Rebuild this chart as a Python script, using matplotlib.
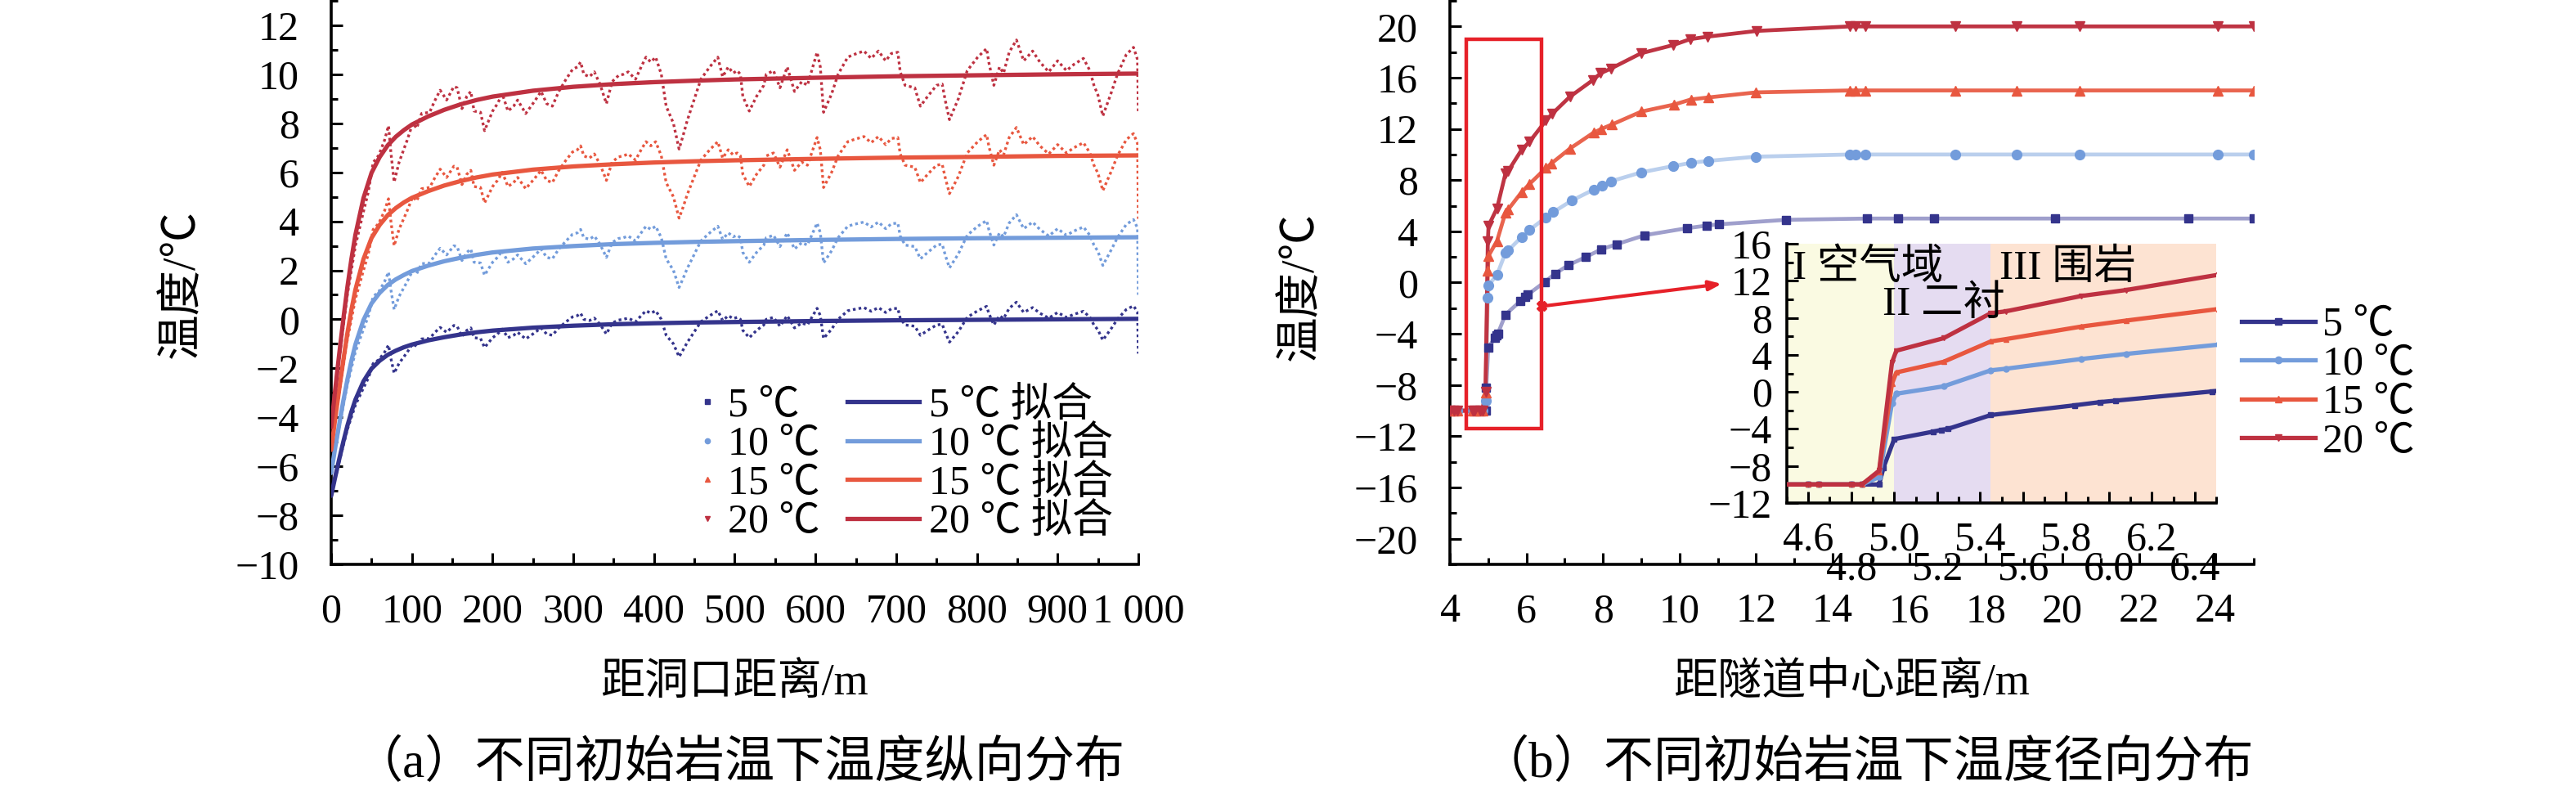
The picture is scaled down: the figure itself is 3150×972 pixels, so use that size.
import matplotlib
matplotlib.use('Agg')
import matplotlib.pyplot as plt
import matplotlib.transforms as mtransforms
from matplotlib.lines import Line2D
from matplotlib.patches import Rectangle
from matplotlib.ticker import MultipleLocator

plt.rcParams['font.family'] = ['Liberation Serif', 'Noto Sans CJK SC']
plt.rcParams['axes.unicode_minus'] = True

# ---------------- (a) longitudinal distribution ----------------
dist_x = [0, 10, 20, 30, 40, 46, 52, 59, 66, 71,
          74, 78, 84, 94, 101, 106, 112, 122, 128, 135,
          143, 152, 156, 162, 168, 173, 177, 185, 190, 200,
          206, 212, 219, 226, 231, 241, 252, 260, 267, 274,
          282, 291, 299, 305, 309, 313, 320, 326, 333, 341,
          348, 356, 362, 368, 377, 384, 390, 396, 402, 409,
          415, 424, 431, 436, 441, 448, 458, 469, 479, 485,
          492, 498, 503, 507, 510, 518, 527, 536, 539, 548,
          556, 565, 574, 583, 590, 602, 606, 610, 620, 628,
          640, 647, 660, 669, 678, 687, 694, 702, 705, 711,
          723, 730, 739, 750, 757, 761, 766, 777, 788, 801,
          812, 815, 821, 828, 833, 840, 849, 858, 869, 878,
          889, 900, 911, 920, 932, 940, 945, 950, 956, 967,
          974, 985, 994, 999, 1000]

meas_20 = [-4.4, -1.6, 1.0, 3.0, 4.4, 5.2, 6.4, 6.7, 7.3, 7.9,
           6.8, 5.6, 6.4, 7.3, 8.0, 7.8, 8.4, 8.45, 8.9, 9.35,
           8.95, 9.5, 9.45, 8.6, 9.1, 9.3, 8.5, 8.45, 7.7, 8.5,
           8.8, 9.2, 8.5, 8.7, 8.95, 8.4, 8.9, 9.3, 8.8, 8.7,
           9.3, 9.8, 10.2, 10.3, 10.5, 10.0, 9.9, 10.1, 9.6, 8.8,
           9.7, 9.95, 10.0, 10.1, 9.8, 10.3, 10.7, 10.5, 10.7, 10.0,
           8.7, 8.0, 6.95, 7.5, 8.1, 8.8, 9.8, 10.3, 10.7, 9.9,
           10.3, 10.05, 10.15, 10.0, 9.1, 8.5, 9.1, 9.55, 10.0, 10.15,
           9.45, 10.3, 9.3, 9.7, 9.55, 10.9, 10.3, 8.45, 9.2, 10.0,
           10.7, 10.8, 10.95, 10.65, 10.95, 10.55, 10.85, 10.9, 10.1, 9.55,
           9.45, 8.7, 9.1, 9.55, 9.6, 8.9, 8.15, 9.0, 10.15, 10.7,
           11.05, 10.45, 9.55, 10.3, 10.05, 10.9, 11.4, 10.55, 10.95, 10.5,
           10.1, 10.55, 10.15, 10.4, 10.65, 10.15, 9.55, 9.15, 8.3, 9.3,
           10.0, 10.8, 11.1, 10.6, 8.4]

meas_15 = [-5.33, -3.0, -0.83, 0.83, 2.0, 2.67, 3.67, 3.92, 4.42, 4.92,
           4.0, 3.0, 3.67, 4.42, 5.0, 4.83, 5.33, 5.38, 5.75, 6.13,
           5.79, 6.25, 6.21, 5.5, 5.92, 6.08, 5.42, 5.38, 4.75, 5.42,
           5.67, 6.0, 5.42, 5.58, 5.79, 5.33, 5.75, 6.08, 5.67, 5.58,
           6.08, 6.5, 6.83, 6.92, 7.08, 6.67, 6.58, 6.75, 6.33, 5.67,
           6.42, 6.63, 6.67, 6.75, 6.5, 6.92, 7.25, 7.08, 7.25, 6.67,
           5.58, 5.0, 4.13, 4.58, 5.08, 5.67, 6.5, 6.92, 7.25, 6.58,
           6.92, 6.71, 6.79, 6.67, 5.92, 5.42, 5.92, 6.29, 6.67, 6.79,
           6.21, 6.92, 6.08, 6.42, 6.29, 7.42, 6.92, 5.38, 6.0, 6.67,
           7.25, 7.33, 7.46, 7.21, 7.46, 7.13, 7.38, 7.42, 6.75, 6.29,
           6.21, 5.58, 5.92, 6.29, 6.33, 5.75, 5.13, 5.83, 6.79, 7.25,
           7.54, 7.04, 6.29, 6.92, 6.71, 7.42, 7.83, 7.13, 7.46, 7.08,
           6.75, 7.13, 6.79, 7.0, 7.21, 6.79, 6.29, 5.96, 5.25, 6.08,
           6.67, 7.33, 7.58, 7.17, 4.1]

meas_10 = [-6.27, -4.4, -2.67, -1.33, -0.4, 0.13, 0.93, 1.13, 1.53, 1.93,
           1.2, 0.4, 0.93, 1.53, 2.0, 1.87, 2.27, 2.3, 2.6, 2.9,
           2.63, 3.0, 2.97, 2.4, 2.73, 2.87, 2.33, 2.3, 1.8, 2.33,
           2.53, 2.8, 2.33, 2.47, 2.63, 2.27, 2.6, 2.87, 2.53, 2.47,
           2.87, 3.2, 3.47, 3.53, 3.67, 3.33, 3.27, 3.4, 3.07, 2.53,
           3.13, 3.3, 3.33, 3.4, 3.2, 3.53, 3.8, 3.67, 3.8, 3.33,
           2.47, 2.0, 1.3, 1.67, 2.07, 2.53, 3.2, 3.53, 3.8, 3.27,
           3.53, 3.37, 3.43, 3.33, 2.73, 2.33, 2.73, 3.03, 3.33, 3.43,
           2.97, 3.53, 2.87, 3.13, 3.03, 3.93, 3.53, 2.3, 2.8, 3.33,
           3.8, 3.87, 3.97, 3.77, 3.97, 3.7, 3.9, 3.93, 3.4, 3.03,
           2.97, 2.47, 2.73, 3.03, 3.07, 2.6, 2.1, 2.67, 3.43, 3.8,
           4.03, 3.63, 3.03, 3.53, 3.37, 3.93, 4.27, 3.7, 3.97, 3.67,
           3.4, 3.7, 3.43, 3.6, 3.77, 3.43, 3.03, 2.77, 2.2, 2.87,
           3.33, 3.87, 4.07, 3.73, 1.0]

meas_5 = [-7.2, -5.8, -4.5, -3.5, -2.8, -2.4, -1.8, -1.65, -1.35, -1.05,
          -1.6, -2.2, -1.8, -1.35, -1.0, -1.1, -0.8, -0.78, -0.55, -0.33,
          -0.53, -0.25, -0.28, -0.7, -0.45, -0.35, -0.75, -0.78, -1.15, -0.75,
          -0.6, -0.4, -0.75, -0.65, -0.53, -0.8, -0.55, -0.35, -0.6, -0.65,
          -0.35, -0.1, 0.1, 0.15, 0.25, 0.0, -0.05, 0.05, -0.2, -0.6,
          -0.15, -0.03, 0.0, 0.05, -0.1, 0.15, 0.35, 0.25, 0.35, 0.0,
          -0.65, -1.0, -1.53, -1.25, -0.95, -0.6, -0.1, 0.15, 0.35, -0.05,
          0.15, 0.03, 0.08, 0.0, -0.45, -0.75, -0.45, -0.23, 0.0, 0.08,
          -0.28, 0.15, -0.35, -0.15, -0.23, 0.45, 0.15, -0.78, -0.4, 0.0,
          0.35, 0.4, 0.48, 0.33, 0.48, 0.28, 0.43, 0.45, 0.05, -0.23,
          -0.28, -0.65, -0.45, -0.23, -0.2, -0.55, -0.93, -0.5, 0.08, 0.35,
          0.53, 0.23, -0.23, 0.15, 0.03, 0.45, 0.7, 0.28, 0.48, 0.25,
          0.05, 0.28, 0.08, 0.2, 0.33, 0.08, -0.23, -0.43, -0.85, -0.35,
          0.0, 0.4, 0.55, 0.3, -1.4]

fit_x = [0, 5, 10, 15, 20, 25, 30, 40, 50, 60, 70, 80, 90, 100, 120, 140,
         160, 180, 200, 250, 300, 350, 400, 450, 500, 600, 700, 800, 900, 1000]
fit_20 = [-4.4, -2.85, -1.4, 0.0, 1.3, 2.45, 3.45, 4.95, 5.98, 6.62, 7.1, 7.45,
          7.72, 7.95, 8.28, 8.55, 8.77, 8.95, 9.09, 9.33, 9.49, 9.6, 9.68, 9.74,
          9.79, 9.86, 9.92, 9.96, 10.0, 10.03]
fit_15 = [-5.33, -4.04, -2.83, -1.67, -0.58, 0.38, 1.21, 2.46, 3.32, 3.85, 4.25,
          4.54, 4.77, 4.96, 5.23, 5.46, 5.64, 5.79, 5.91, 6.11, 6.24, 6.33, 6.4,
          6.45, 6.49, 6.55, 6.6, 6.63, 6.67, 6.69]
fit_10 = [-6.27, -5.23, -4.27, -3.33, -2.47, -1.7, -1.03, -0.03, 0.65, 1.08, 1.4,
          1.63, 1.81, 1.97, 2.19, 2.37, 2.51, 2.63, 2.73, 2.89, 2.99, 3.07, 3.12,
          3.16, 3.19, 3.24, 3.28, 3.31, 3.33, 3.35]
fit_5 = [-7.2, -6.43, -5.7, -5.0, -4.35, -3.78, -3.28, -2.53, -2.01, -1.69, -1.45,
         -1.28, -1.14, -1.03, -0.86, -0.73, -0.62, -0.53, -0.46, -0.34, -0.26,
         -0.2, -0.16, -0.13, -0.11, -0.07, -0.04, -0.02, 0.0, 0.02]

a_xticks = [0, 100, 200, 300, 400, 500, 600, 700, 800, 900, 1000]
a_xticklabels = ['0', '100', '200', '300', '400', '500', '600', '700', '800', '900', '1 000']

# ---------------- (b) radial distribution ----------------
r_5 = [4.0, 4.1, 4.2, 4.6, 4.65, 4.8, 4.85, 4.93, 4.95, 5.0, 5.18, 5.22, 5.25, 5.45,
       5.84, 5.96, 6.03, 6.48, 6.75, 7.09, 7.55, 7.96, 8.36, 9.09, 10.2, 10.71,
       11.03, 12.79, 14.9, 15.7, 16.65, 19.8, 23.3, 25.0]
t_5 = [-10, -10, -10, -10, -10, -10, -10, -10, -8.2, -5.1, -4.3, -4.1, -4.0, -2.5,
       -1.45, -1.1, -0.95, 0.05, 0.7, 1.35, 2.0, 2.6, 3.0, 3.7, 4.25, 4.45,
       4.55, 4.9, 5.0, 5.0, 5.0, 5.0, 5.0, 5.0]
r_10 = [4.0, 4.1, 4.2, 4.6, 4.65, 4.8, 4.85, 4.93, 4.99, 5.01, 5.23, 5.45, 5.52,
        5.87, 6.08, 6.51, 6.7, 7.18, 7.75, 7.97, 8.2, 8.99, 9.84, 10.3, 10.74,
        12.0, 14.45, 14.6, 14.85, 17.2, 18.8, 20.45, 24.07, 25.0]
t_10 = [-10, -10, -10, -10, -10, -10, -10, -9.2, -1.2, -0.2, 0.6, 2.33, 2.5,
        3.55, 4.1, 5.1, 5.5, 6.4, 7.25, 7.55, 7.9, 8.6, 9.1, 9.35, 9.5,
        9.83, 10.0, 10.0, 10.0, 10.0, 10.0, 10.0, 10.0, 10.0]
r_15 = [4.0, 4.1, 4.2, 4.6, 4.65, 4.8, 4.85, 4.93, 4.99, 5.01, 5.23, 5.45, 5.52,
        5.87, 6.08, 6.51, 6.65, 7.13, 7.75, 7.96, 8.24, 9.0, 9.86, 10.3, 10.74,
        12.0, 14.45, 14.6, 14.85, 17.2, 18.8, 20.45, 24.07, 25.0]
t_15 = [-10, -10, -10, -10, -10, -10, -10, -8.6, 0.9, 2.1, 3.25, 5.45, 5.7,
        7.05, 7.7, 8.95, 9.3, 10.45, 11.7, 12.0, 12.35, 13.35, 13.9, 14.3, 14.45,
        14.85, 15.0, 15.0, 15.0, 15.0, 15.0, 15.0, 15.0, 15.0]
r_20 = [4.0, 4.1, 4.2, 4.6, 4.65, 4.8, 4.85, 4.93, 4.99, 5.01, 5.23, 5.45, 5.52,
        5.87, 6.08, 6.51, 6.68, 7.13, 7.73, 7.94, 8.2, 8.99, 9.84, 10.27, 10.73,
        12.02, 14.45, 14.6, 14.85, 17.2, 18.8, 20.45, 24.07, 25.0]
t_20 = [-10, -10, -10, -10, -10, -10, -10, -8.5, 3.2, 4.45, 5.8, 8.5, 8.7,
        10.35, 11.0, 12.65, 13.2, 14.5, 15.8, 16.35, 16.7, 17.9, 18.55, 19.0, 19.2,
        19.65, 20.0, 20.0, 20.0, 20.0, 20.0, 20.0, 20.0, 20.0]

zone_edges = [4.5, 5.0, 5.45, 6.5]
zone_names = ['I 空气域', 'II 二衬', 'III 围岩']
zoom_box = (4.43, -11.4, 6.4, 19.0)          # x0, y0, x1, y1
arrow_from = (6.4, -1.85)
arrow_to = (11.1, -0.1)
inset_xticks = [4.6, 4.8, 5.0, 5.2, 5.4, 5.6, 5.8, 6.0, 6.2, 6.4]

labels = ['5 ℃', '10 ℃', '15 ℃', '20 ℃']
colors = ['#34348c', '#739cdb', '#e8573f', '#be3141']
pale_lines = ['#9f9fcc', '#bacfed', '#e9644e', '#be3443']
markers = ['s', 'o', '^', 'v']

FS = 36


def style_axis(ax, xmaj, xmin, ymaj, ymin, pad_x=25, pad_y=28):
    for s in ['top', 'right']:
        ax.spines[s].set_visible(False)
    for s in ['left', 'bottom']:
        ax.spines[s].set_linewidth(2.6)
    ax.xaxis.set_major_locator(MultipleLocator(xmaj))
    ax.xaxis.set_minor_locator(MultipleLocator(xmin))
    ax.yaxis.set_major_locator(MultipleLocator(ymaj))
    ax.yaxis.set_minor_locator(MultipleLocator(ymin))
    ax.tick_params(which='both', direction='in', width=2.2, labelsize=FS)
    ax.tick_params(which='major', length=10)
    ax.tick_params(which='minor', length=5.5)
    ax.tick_params(axis='x', pad=pad_x)
    ax.tick_params(axis='y', pad=pad_y)


fig = plt.figure(figsize=(31.5, 9.72), dpi=100)

# ---------- panel (a) ----------
ax1 = fig.add_axes([0.12857, 0.29012, 0.31333, 0.70888])
meas = [meas_5, meas_10, meas_15, meas_20]
fits = [fit_5, fit_10, fit_15, fit_20]
for m, c in zip(meas, colors):
    ax1.plot(dist_x, m, color=c, lw=2.4, ls=(0, (1, 1.1)), zorder=2)
for f, c in zip(fits, colors):
    ax1.plot(fit_x, f, color=c, lw=3.8, zorder=3, solid_capstyle='round')
ax1.set_xlim(0, 1000)
ax1.set_ylim(-10, 13)
style_axis(ax1, 100, 50, 2, 1)
ax1.set_xticks(a_xticks)
ax1.set_xticklabels(a_xticklabels)

h_meas = [Line2D([], [], ls='none', marker=mk, ms=4.5, color=c)
          for mk, c in zip(markers, colors)]
h_fit = [Line2D([], [], lw=3.8, color=c) for c in colors]
leg_top = 0.513
fig.legend(h_meas, labels, loc='upper left', bbox_to_anchor=(0.2698, leg_top),
           frameon=False, fontsize=FS, handlelength=0.6, handletextpad=0.2,
           borderpad=0, borderaxespad=0, labelspacing=0.02)
fig.legend(h_fit, [l + ' 拟合' for l in labels], loc='upper left',
           bbox_to_anchor=(0.3289, leg_top), frameon=False, fontsize=FS,
           handlelength=1.75, handletextpad=0.24, borderpad=0,
           borderaxespad=0, labelspacing=0.02)

fig.text(223 / 3150, 0.643, '温度/℃', rotation=90, ha='center', va='center', fontsize=40)
fig.text(0.2851, 0.139, '距洞口距离/m', ha='center', va='center', fontsize=39)
fig.text(0.2868, 0.039, '（a）不同初始岩温下温度纵向分布', ha='center', va='center', fontsize=44)

# ---------- panel (b) ----------
ax2 = fig.add_axes([0.56286, 0.29012, 0.31206, 0.70888])
series = [(r_5, t_5), (r_10, t_10), (r_15, t_15), (r_20, t_20)]
msizes = [7, 8.5, 8.5, 8.5]
for (r, t), c, pc, mk, ms in zip(series, colors, pale_lines, markers, msizes):
    ax2.plot(r, t, color=pc, lw=3.4, zorder=2)
    ax2.plot(r, t, ls='none', marker=mk, ms=ms, color=c, mec=c, zorder=3)
ax2.set_xlim(4, 25)
ax2.set_ylim(-22, 22)
style_axis(ax2, 2, 1, 4, 2)
ax2.set_yticks(range(-20, 21, 4))

x0, y0, x1, y1 = zoom_box
ax2.add_patch(Rectangle((x0, y0), x1 - x0, y1 - y0, fill=False, ec='#e62129', lw=3.2, zorder=4))
ax2.annotate('', xy=arrow_to, xytext=arrow_from,
             arrowprops=dict(arrowstyle='-|>,head_length=0.9,head_width=0.35',
                             color='#e62129', lw=3, shrinkA=0, shrinkB=0), zorder=5)
ax2.plot(*arrow_from, marker='X', ms=9, color='#e62129', zorder=5)

fig.text(1591 / 3150, 0.64, '温度/℃', rotation=90, ha='center', va='center', fontsize=40)
fig.text(0.7187, 0.139, '距隧道中心距离/m', ha='center', va='center', fontsize=39)
fig.text(0.7244, 0.039, '（b）不同初始岩温下温度径向分布', ha='center', va='center', fontsize=44)

# ---------- inset ----------
ins = fig.add_axes([0.69365, 0.36728, 0.16667, 0.32613])
zone_colors = ['#fafae2', '#e5dcf1', '#fde3d2']
for i, zc in enumerate(zone_colors):
    ins.axvspan(zone_edges[i], zone_edges[i + 1], color=zc, lw=0, zorder=0)
for (r, t), c, mk in zip(series, colors, markers):
    ins.plot(r, t, color=c, lw=3.8, marker=mk, ms=5, zorder=3)
ins.set_xlim(4.5, 6.5)
ins.set_ylim(-12, 16)
style_axis(ins, 0.2, 0.1, 4, 2, pad_y=13)
ins.set_xticklabels([])
trans = mtransforms.blended_transform_factory(ins.transData, ins.transAxes)
for i, v in enumerate(inset_xticks):
    ins.text(v, -0.142 - 0.113 * (i % 2), f'{v:.1f}', transform=trans,
             ha='center', va='center', fontsize=FS, zorder=6)

ins.text(4.527, 13.35, zone_names[0], ha='left', va='center', fontsize=37)
ins.text(4.945, 9.4, zone_names[1], ha='left', va='center', fontsize=37)
ins.text(5.49, 13.35, zone_names[2], ha='left', va='center', fontsize=37)

h_b = [Line2D([], [], lw=3.8, color=c, marker=mk, ms=6) for c, mk in zip(colors, markers)]
fig.legend(h_b, labels, loc='upper left', bbox_to_anchor=(0.8702, 0.6145), frameon=False,
           fontsize=FS, handlelength=1.8, handletextpad=0.17, borderpad=0,
           borderaxespad=0, labelspacing=0.02)

fig.savefig('out.png', dpi=100)
